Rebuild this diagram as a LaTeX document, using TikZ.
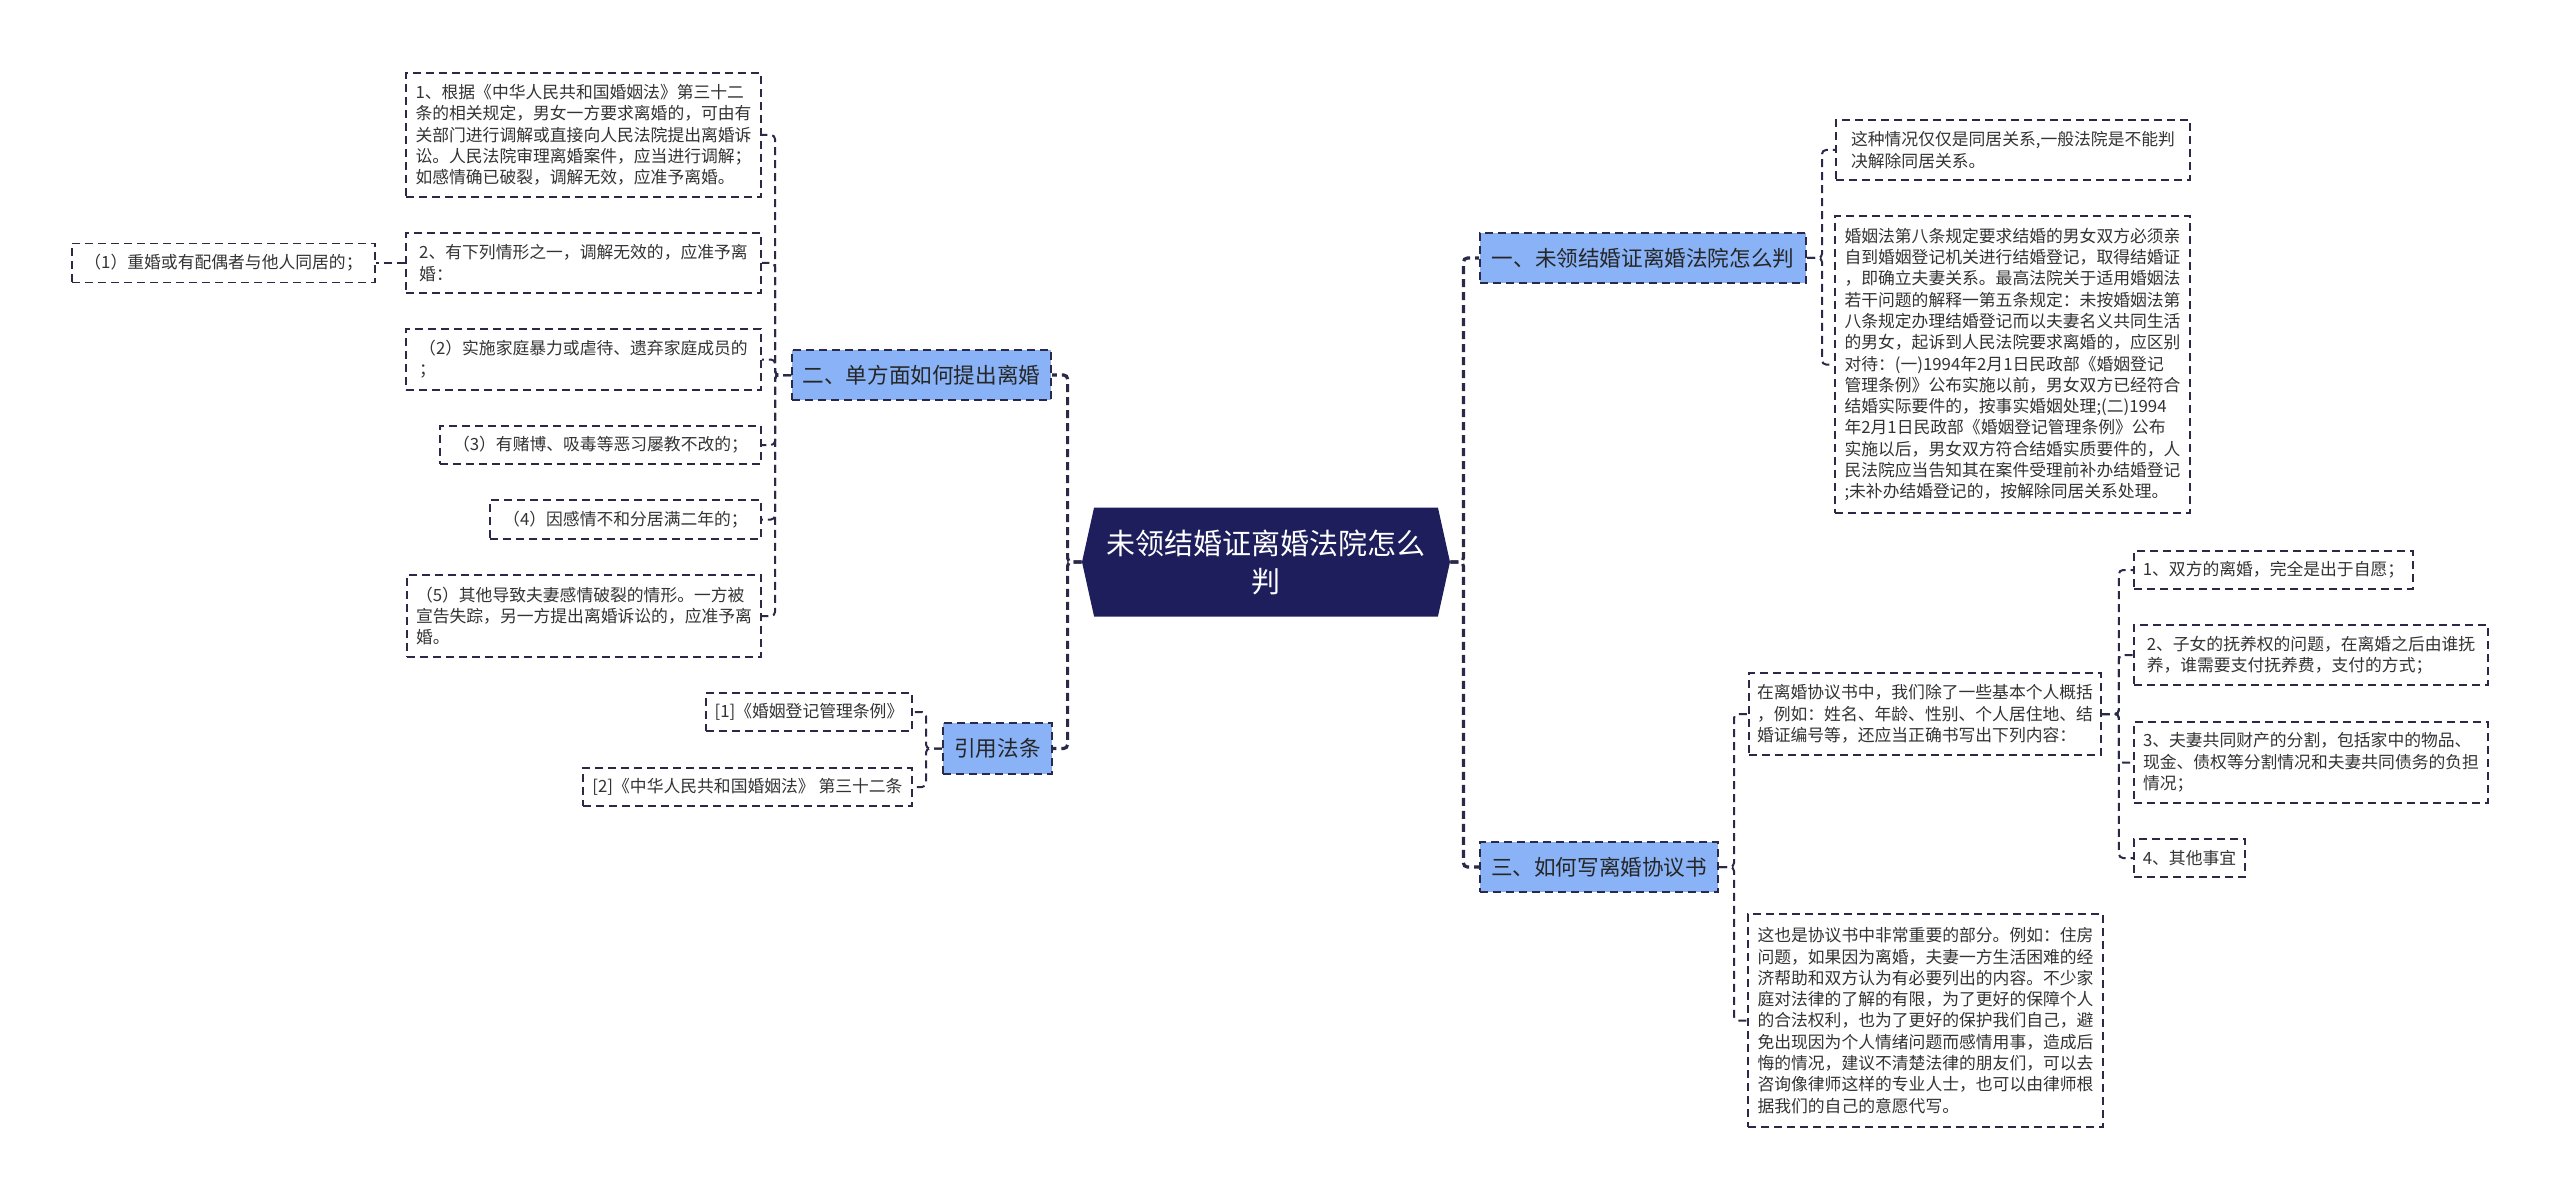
\documentclass[tikz,border=0pt]{standalone}
\usepackage{fontspec}
\setmainfont{Noto Sans CJK SC}
\usetikzlibrary{shapes.symbols}
\definecolor{marine}{HTML}{1E1E5C}
\definecolor{bleu}{HTML}{8AB2F6}
\definecolor{trait}{HTML}{2A2A48}
\definecolor{texte}{HTML}{333333}

\begin{document}
\begin{tikzpicture}[x=0.5pt,y=-0.5pt]
% Styles (MODIFIABLES)
\tikzstyle{lien}=[draw=trait,line width=1pt,dash pattern=on 4pt off 2.5pt,rounded corners=2pt]
\tikzstyle{tronc}=[lien,line width=1.6pt]
\tikzstyle{racine}=[signal,signal to=west and east,signal pointer angle=155,fill=marine,text=white,font=\fontsize{14.5}{19}\selectfont,align=center,inner sep=0pt]
\tikzstyle{branche}=[fill=bleu,draw=trait,line width=1pt,dash pattern=on 4pt off 2.5pt,text=black!85,font=\fontsize{10.8}{13}\selectfont,inner sep=0pt]
\tikzstyle{feuille}=[fill=white,draw=trait,line width=0.9pt,dash pattern=on 4pt off 2.5pt,text=texte,font=\fontsize{8.4}{10.65}\selectfont,align=left,inner sep=0pt]
% Cadre
\useasboundingbox (0,0) rectangle (2560,1198);
% Noeuds (MODIFIABLES)
\node[racine,minimum width=184pt,minimum height=54.5pt] (R) at (1266,562) {未领结婚证离婚法院怎么\\判};
% gauche
\node[branche,minimum width=129.5pt,minimum height=25pt] (Ra) at (921.5,375) {二、单方面如何提出离婚};
\node[feuille,minimum width=177.5pt,minimum height=62pt] (Raa) at (583.5,135) {1、根据《中华人民共和国婚姻法》第三十二\\条的相关规定，男女一方要求离婚的，可由有\\关部门进行调解或直接向人民法院提出离婚诉\\讼。人民法院审理离婚案件，应当进行调解；\\如感情确已破裂，调解无效，应准予离婚。};
\node[feuille,minimum width=177.5pt,minimum height=30pt] (Rab) at (583.5,263) {2、有下列情形之一，调解无效的，应准予离\\婚：};
\node[feuille,minimum width=151.5pt,minimum height=19.5pt] (Raba) at (223.5,263) {（1）重婚或有配偶者与他人同居的；};
\node[feuille,minimum width=177.5pt,minimum height=30.5pt] (Rac) at (583.5,359.5) {（2）实施家庭暴力或虐待、遗弃家庭成员的\\；};
\node[feuille,minimum width=160.5pt,minimum height=19pt] (Rad) at (600.5,445) {（3）有赌博、吸毒等恶习屡教不改的；};
\node[feuille,minimum width=135.5pt,minimum height=19.5pt] (Rae) at (625.5,519.5) {（4）因感情不和分居满二年的；};
\node[feuille,minimum width=177pt,minimum height=41pt] (Raf) at (584,616) {（5）其他导致夫妻感情破裂的情形。一方被\\宣告失踪，另一方提出离婚诉讼的，应准予离\\婚。};
\node[branche,minimum width=54.5pt,minimum height=25.5pt] (Rb) at (997.5,748.5) {引用法条};
\node[feuille,minimum width=103pt,minimum height=19pt] (Rba) at (809,712) {[1]《婚姻登记管理条例》};
\node[feuille,minimum width=164.5pt,minimum height=19pt] (Rbb) at (747.5,787) {[2]《中华人民共和国婚姻法》 第三十二条};
% droite
\node[branche,minimum width=163pt,minimum height=25pt] (Rc) at (1643,258) {一、未领结婚证离婚法院怎么判};
\node[feuille,minimum width=177pt,minimum height=30pt] (Rca) at (2013,150) {这种情况仅仅是同居关系,一般法院是不能判\\决解除同居关系。};
\node[feuille,minimum width=177.5pt,minimum height=148.5pt] (Rcb) at (2012.5,364.5) {婚姻法第八条规定要求结婚的男女双方必须亲\\自到婚姻登记机关进行结婚登记，取得结婚证\\，即确立夫妻关系。最高法院关于适用婚姻法\\若干问题的解释一第五条规定：未按婚姻法第\\八条规定办理结婚登记而以夫妻名义共同生活\\的男女，起诉到人民法院要求离婚的，应区别\\对待：(一)1994年2月1日民政部《婚姻登记\\管理条例》公布实施以前，男女双方已经符合\\结婚实际要件的，按事实婚姻处理;(二)1994\\年2月1日民政部《婚姻登记管理条例》公布\\实施以后，男女双方符合结婚实质要件的，人\\民法院应当告知其在案件受理前补办结婚登记\\;未补办结婚登记的，按解除同居关系处理。};
\node[branche,minimum width=119pt,minimum height=25pt] (Rd) at (1599,867) {三、如何写离婚协议书};
\node[feuille,minimum width=176pt,minimum height=41pt] (Rda) at (1925,714) {在离婚协议书中，我们除了一些基本个人概括\\，例如：姓名、年龄、性别、个人居住地、结\\婚证编号等，还应当正确书写出下列内容：};
\node[feuille,minimum width=139.5pt,minimum height=19pt] (Rdaa) at (2273.5,570) {1、双方的离婚，完全是出于自愿；};
\node[feuille,minimum width=177pt,minimum height=30pt] (Rdab) at (2311,655) {2、子女的抚养权的问题，在离婚之后由谁抚\\养，谁需要支付抚养费，支付的方式；};
\node[feuille,minimum width=177pt,minimum height=40.5pt] (Rdac) at (2311,762.5) {3、夫妻共同财产的分割，包括家中的物品、\\现金、债权等分割情况和夫妻共同债务的负担\\情况；};
\node[feuille,minimum width=55.5pt,minimum height=19pt] (Rdad) at (2189.5,858) {4、其他事宜};
\node[feuille,minimum width=177.5pt,minimum height=106.5pt] (Rdb) at (1925.5,1020.5) {这也是协议书中非常重要的部分。例如：住房\\问题，如果因为离婚，夫妻一方生活困难的经\\济帮助和双方认为有必要列出的内容。不少家\\庭对法律的了解的有限，为了更好的保障个人\\的合法权利，也为了更好的保护我们自己，避\\免出现因为个人情绪问题而感情用事，造成后\\悔的情况，建议不清楚法律的朋友们，可以去\\咨询像律师这样的专业人士，也可以由律师根\\据我们的自己的意愿代写。};
% Arcs (MODIFIABLES)
\draw[tronc] (R.west) -- ++(-14,0) |- (Ra.east);
\draw[tronc] (R.west) -- ++(-14,0) |- (Rb.east);
\draw[tronc] (R.east) -- ++(13,0) |- (Rc.west);
\draw[tronc] (R.east) -- ++(13,0) |- (Rd.west);
\foreach \f in {Raa,Rab,Rac,Rad,Rae,Raf}
  \draw[lien] (Ra.west) -- ++(-16,0) |- (\f.east);
\draw[lien] (Rab.west) -- (Raba.east);
\foreach \f in {Rba,Rbb}
  \draw[lien] (Rb.west) -- ++(-16,0) |- (\f.east);
\foreach \f in {Rca,Rcb}
  \draw[lien] (Rc.east) -- ++(15,0) |- (\f.west);
\foreach \f in {Rda,Rdb}
  \draw[lien] (Rd.east) -- ++(15,0) |- (\f.west);
\foreach \f in {Rdaa,Rdab,Rdac,Rdad}
  \draw[lien] (Rda.east) -- ++(17,0) |- (\f.west);
\end{tikzpicture}
\end{document}
